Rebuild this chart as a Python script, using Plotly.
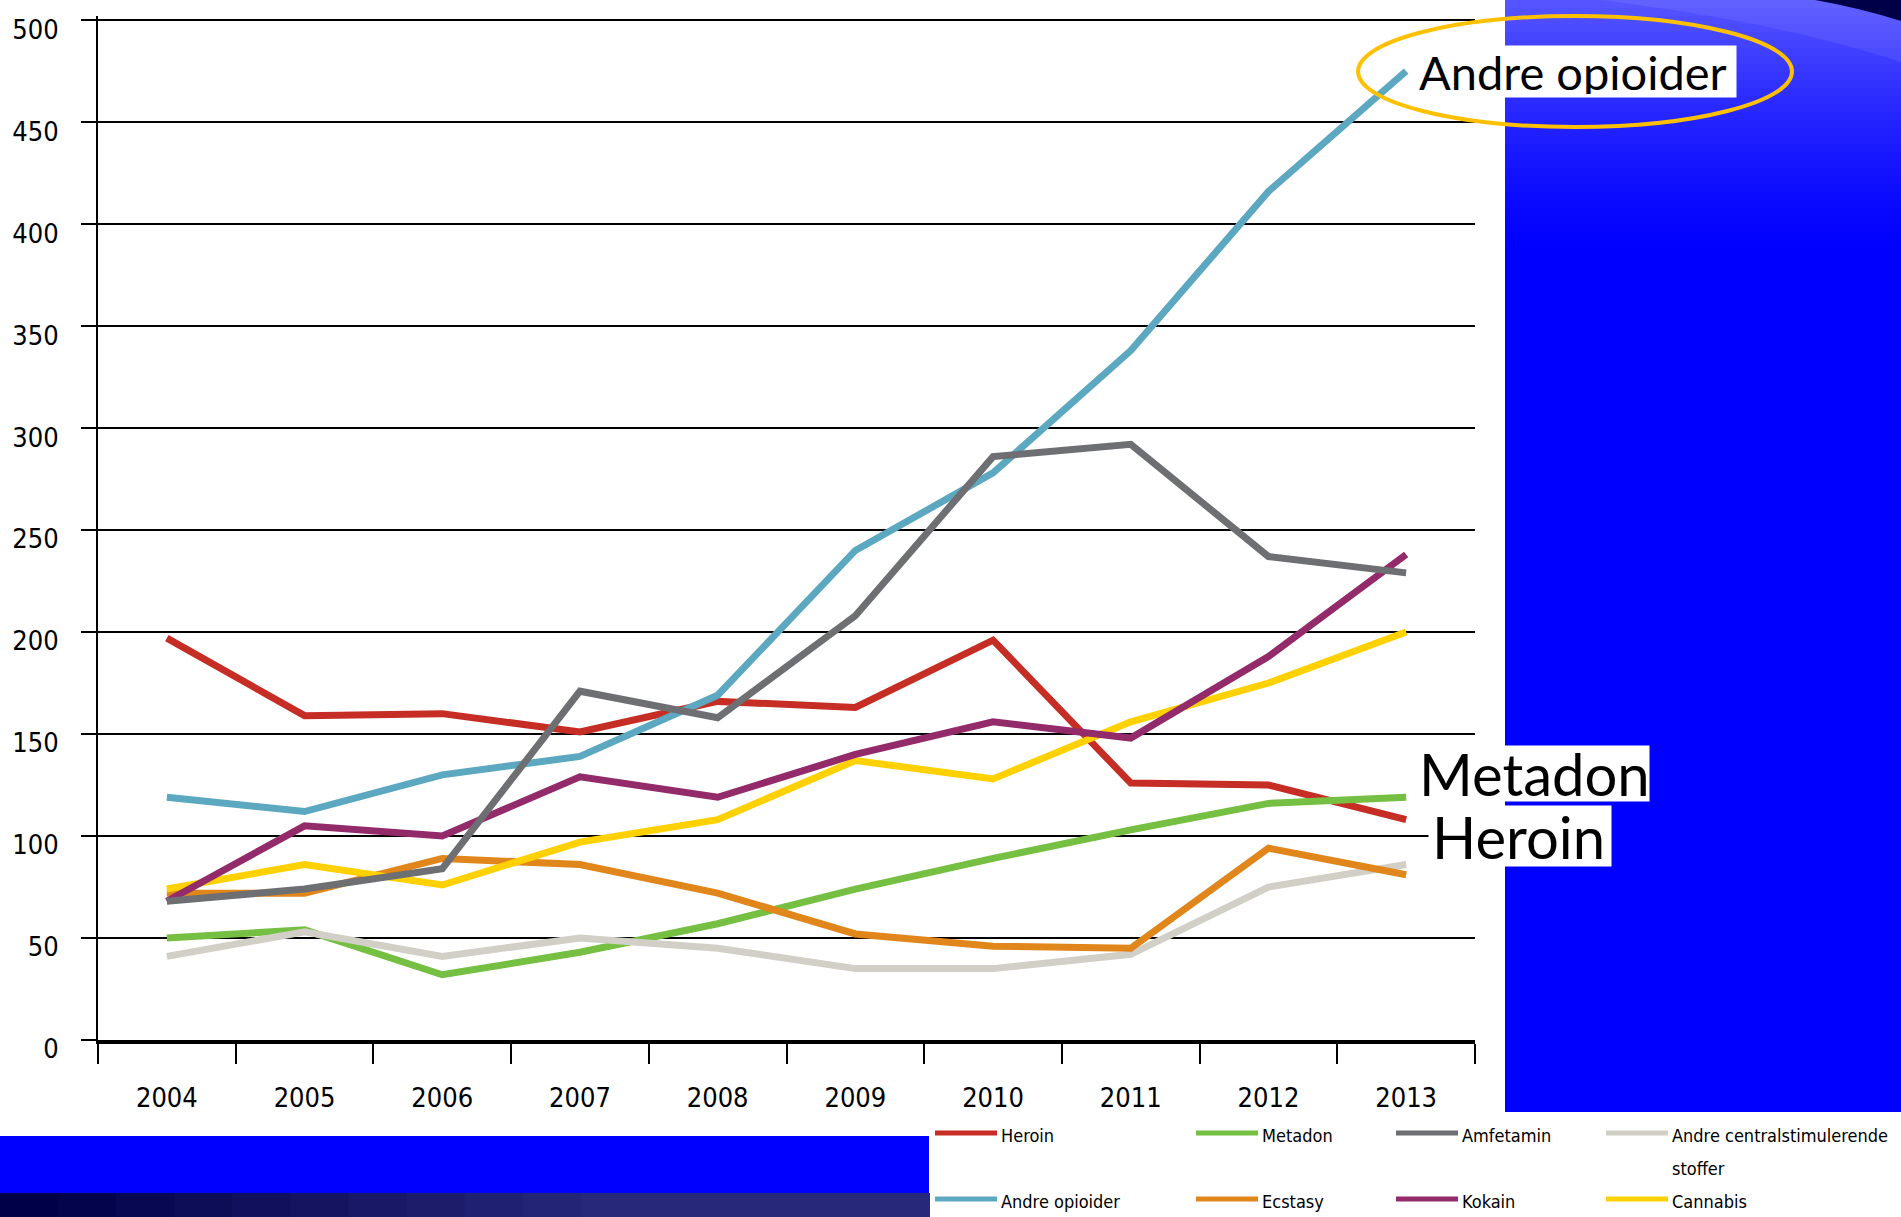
import plotly.graph_objects as go

years = ["2004", "2005", "2006", "2007", "2008", "2009", "2010", "2011", "2012", "2013"]

heroin = [197, 159, 160, 151, 166, 163, 196, 126, 125, 108]
metadon = [50, 54, 32, 43, 57, 74, 89, 103, 116, 119]
amfetamin = [68, 74, 84, 171, 158, 208, 286, 292, 237, 229]
andre_sentral = [41, 53, 41, 50, 45, 35, 35, 42, 75, 86]
andre_opioider = [119, 112, 130, 139, 169, 240, 278, 338, 416, 475]
ecstasy = [72, 72, 89, 86, 72, 52, 46, 45, 94, 81]
kokain = [68, 105, 100, 129, 119, 140, 156, 148, 188, 238]
cannabis = [74, 86, 76, 97, 108, 137, 128, 156, 175, 200]

series_names = ["Heroin", "Metadon", "Amfetamin", "Andre centralstimulerende<br>stoffer",
                "Andre opioider", "Ecstasy", "Kokain", "Cannabis"]
series_values = [heroin, metadon, amfetamin, andre_sentral, andre_opioider, ecstasy, kokain, cannabis]
series_colors = ["#C62D24", "#75BF43", "#6E6F72", "#D1CFC6", "#5DA8C1", "#E0861B", "#932A6A", "#FFD100"]

y_ticks = [0, 50, 100, 150, 200, 250, 300, 350, 400, 450, 500]

# ---- layout geometry (pixels) ----
FW, FH = 1901, 1217
L, R, T, B = 98, 1475, 16, 1040
W, H = R - L, B - T


def px(x):
    return (x - L) / W


def py(y):
    return (B - y) / H


TICKFONT = "DejaVu Sans Condensed, DejaVu Sans, sans-serif"
LABELFONT = "Lato, Noto Sans, sans-serif"

fig = go.Figure()
draw_order = [0, 1, 3, 5, 7, 6, 4, 2]
for i in draw_order:
    fig.add_trace(go.Scatter(
        x=years, y=series_values[i], mode="lines",
        name=series_names[i].replace("<br>", " "),
        line=dict(color=series_colors[i], width=7),
        showlegend=False,
    ))

shapes = []
annotations = []

# ---- decorative blue background panels ----
shapes.append(dict(type="rect", xref="paper", yref="paper",
                   x0=px(1505), x1=px(FW), y0=py(0), y1=py(1112),
                   fillcolor="#0000FF", line=dict(width=0), layer="below"))
step = 8
for y0 in range(0, 256, step):
    a = 0.34 * max(0.0, 1 - (y0 + step / 2) / 256) ** 1.4
    c = int(round(255 * a))
    shapes.append(dict(type="rect", xref="paper", yref="paper",
                       x0=px(1505), x1=px(FW), y0=py(y0), y1=py(y0 + step + 0.5),
                       fillcolor="rgb({},{},255)".format(c, c), line=dict(width=0), layer="below"))
path = "M {:.5f},{:.5f} Q {:.5f},{:.5f} {:.5f},{:.5f} L {:.5f},{:.5f} Z".format(
    px(1600), py(0), px(1780), py(22), px(FW), py(62), px(FW), py(0))
shapes.append(dict(type="path", xref="paper", yref="paper", path=path,
                   fillcolor="rgba(255,255,255,0.07)", line=dict(width=0), layer="below"))
path = "M {:.5f},{:.5f} L {:.5f},{:.5f} L {:.5f},{:.5f} Q {:.5f},{:.5f} {:.5f},{:.5f} Z".format(
    px(1815), py(0), px(FW), py(0), px(FW), py(21), px(1860), py(8), px(1815), py(0))
shapes.append(dict(type="path", xref="paper", yref="paper", path=path,
                   fillcolor="#000048", line=dict(width=0), layer="below"))

# bottom band
shapes.append(dict(type="rect", xref="paper", yref="paper",
                   x0=px(0), x1=px(929), y0=py(1136), y1=py(1193),
                   fillcolor="#0000FF", line=dict(width=0), layer="below"))
nseg = 16
for k in range(nseg):
    t = k / (nseg - 1)
    tt = min(1.0, t * 1.5)
    r = int(0 + 40 * tt)
    g = int(0 + 40 * tt)
    b = int(72 + 50 * tt)
    shapes.append(dict(type="rect", xref="paper", yref="paper",
                       x0=px(929 * k / nseg), x1=px(929 * (k + 1) / nseg + 1),
                       y0=py(1193), y1=py(FH + 2),
                       fillcolor="rgb({},{},{})".format(r, g, b), line=dict(width=0), layer="below"))

# ---- highlight ellipse ----
shapes.append(dict(type="circle", xref="paper", yref="paper",
                   x0=px(1358), x1=px(1792), y0=py(16), y1=py(127),
                   line=dict(color="#FFC000", width=4), layer="above"))

# ---- big labels ----
annotations.append(dict(xref="paper", yref="paper", x=px(1415), y=py(71.5),
                        xanchor="left", yanchor="middle", text="Andre opioider",
                        showarrow=False, bgcolor="white", borderpad=3, width=314, height=45,
                        align="left", font=dict(family=LABELFONT, size=47, color="black")))
annotations.append(dict(xref="paper", yref="paper", x=px(1415), y=py(773.5),
                        xanchor="left", yanchor="middle", text="Metadon",
                        showarrow=False, bgcolor="white", borderpad=3, width=227, height=49,
                        align="left", font=dict(family=LABELFONT, size=58, color="black")))
annotations.append(dict(xref="paper", yref="paper", x=px(1428), y=py(836),
                        xanchor="left", yanchor="middle", text="Heroin",
                        showarrow=False, bgcolor="white", borderpad=3, width=176, height=54,
                        align="left", font=dict(family=LABELFONT, size=58, color="black")))

# ---- legend (drawn manually to match the reference placement) ----
legend_cols = [935, 1196, 1396, 1606]
legend_rows = [1133, 1199]
legend_line_len = 62
legend_line_gap = 33
for i, name in enumerate(series_names):
    cx = legend_cols[i % 4]
    ry = legend_rows[i // 4]
    shapes.append(dict(type="line", xref="paper", yref="paper",
                       x0=px(cx), x1=px(cx + legend_line_len), y0=py(ry), y1=py(ry),
                       line=dict(color=series_colors[i], width=5), layer="above"))
    for j, part in enumerate(name.split("<br>")):
        annotations.append(dict(xref="paper", yref="paper", x=px(cx + legend_line_len + 2),
                                y=py(ry + 2 + j * legend_line_gap), xanchor="left", yanchor="middle",
                                text=part, showarrow=False, align="left",
                                font=dict(family=TICKFONT, size=18, color="black")))

fig.update_layout(
    width=FW, height=FH,
    margin=dict(l=L, r=FW - R, t=T, b=FH - B, pad=0, autoexpand=False),
    paper_bgcolor="white", plot_bgcolor="white",
    showlegend=False,
    shapes=shapes, annotations=annotations,
    xaxis=dict(type="category", range=[-0.5, 9.5], tickson="boundaries", automargin=False,
               ticks="outside", ticklen=20, tickwidth=1.5, tickcolor="black",
               showgrid=False, zeroline=False, showline=True, linewidth=4, linecolor="black",
               tickfont=dict(family=TICKFONT, size=27, color="black"),
               ticklabelstandoff=31, fixedrange=True),
    yaxis=dict(range=[0, 502], tickmode="array", tickvals=y_ticks, ticktext=[str(v) for v in y_ticks],
               automargin=False,
               ticks="outside", ticklen=15, tickwidth=2, tickcolor="black",
               showgrid=True, gridcolor="black", gridwidth=1.5,
               zeroline=False, showline=True, linewidth=2, linecolor="black",
               tickfont=dict(family=TICKFONT, size=27, color="black"),
               ticklabelstandoff=17, ticklabelshift=9, fixedrange=True),
)

fig.write_html("out.html", config={"displayModeBar": False},
               post_script="document.body.style.margin='0';document.body.style.padding='0';"
                           "document.body.style.overflow='hidden';")
